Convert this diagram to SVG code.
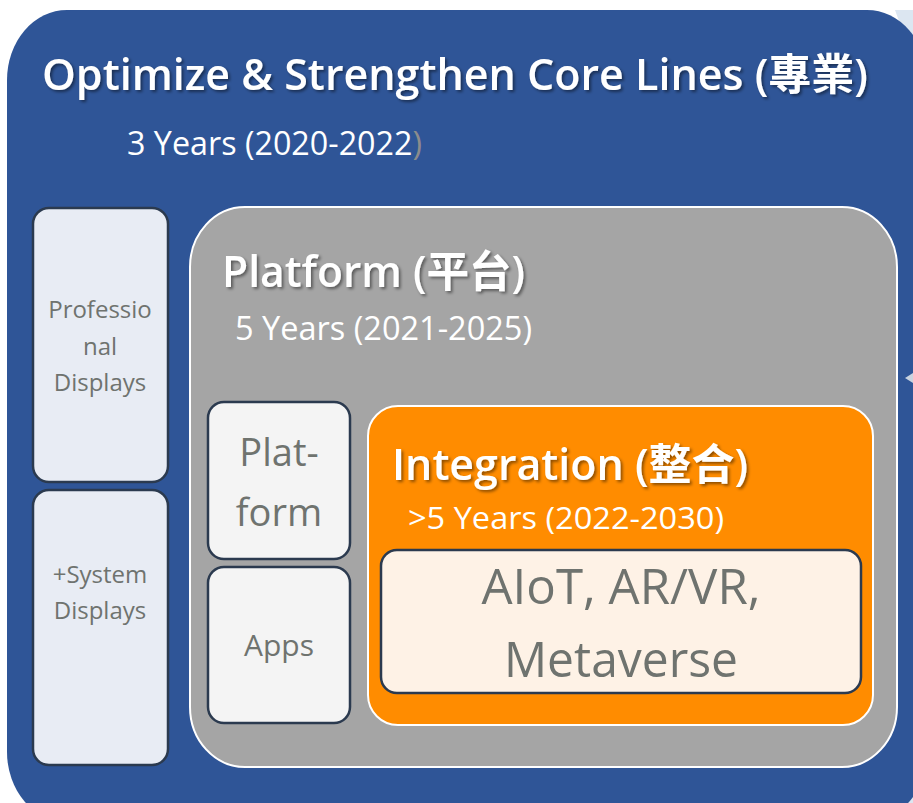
<svg xmlns="http://www.w3.org/2000/svg" width="913" height="803" viewBox="0 0 913 803">
<defs>
<filter id="sh" x="-10%" y="-30%" width="120%" height="160%">
<feDropShadow dx="2" dy="2" stdDeviation="1.5" flood-color="#000" flood-opacity="0.45"/>
</filter>
<style>
.hd{font-family:"Open Sans","Noto Sans CJK TC",sans-serif;fill:#fff;font-weight:600}
.sub{font-family:"Open Sans","Noto Sans",sans-serif;fill:#fff}
.lbl{font-family:"Open Sans","Noto Sans",sans-serif;fill:#6f736f;text-anchor:middle}
.card{stroke:#2b3a4f;stroke-width:2.5}
</style>
</defs>
<rect width="913" height="803" fill="#fff"/>
<path d="M895 10 L913 10 L913 60 Z" fill="#dce6f1"/>
<path d="M880 803 L913 760 L913 803 Z" fill="#dce6f1"/>
<g id="outer">
<rect x="7" y="10" width="920" height="812" rx="60" ry="70" fill="#2f5597"/>
<text class="hd" x="42" y="90" font-size="43" textLength="826" lengthAdjust="spacingAndGlyphs" filter="url(#sh)">Optimize &amp; Strengthen Core Lines (專業)</text>
<text class="sub" x="127" y="155" font-size="32" textLength="295" lengthAdjust="spacingAndGlyphs">3 Years (2020-2022<tspan fill="#8c8c8c">)</tspan></text>
</g>
<path d="M905 378 L913 373 L913 383 Z" fill="#c9d3e0"/>
<g id="professional">
<rect class="card" x="33" y="208" width="135" height="274" rx="16" fill="#e8ecf4"/>
<text class="lbl" x="100" y="318" font-size="24">Professio</text>
<text class="lbl" x="100" y="355" font-size="24">nal</text>
<text class="lbl" x="100" y="391" font-size="24">Displays</text>
</g>
<g id="system">
<rect class="card" x="33" y="490" width="135" height="275" rx="16" fill="#e8ecf4"/>
<text class="lbl" x="100" y="583" font-size="24">+System</text>
<text class="lbl" x="100" y="619" font-size="24">Displays</text>
</g>
<g id="platform">
<rect x="190" y="207" width="707" height="560" rx="55" ry="60" fill="#a5a5a5" stroke="#fff" stroke-width="2"/>
<text class="hd" x="222" y="287" font-size="43" textLength="303" lengthAdjust="spacingAndGlyphs" filter="url(#sh)">Platform (平台)</text>
<text class="sub" x="235" y="340" font-size="32" textLength="297" lengthAdjust="spacingAndGlyphs">5 Years (2021-2025)</text>
</g>
<g id="platform-box">
<rect class="card" x="208" y="402" width="142" height="157" rx="16" fill="#f4f4f4"/>
<text class="lbl" x="279" y="466" font-size="38">Plat-</text>
<text class="lbl" x="279" y="526" font-size="38">form</text>
</g>
<g id="apps">
<rect class="card" x="208" y="567" width="142" height="156" rx="16" fill="#f4f4f4"/>
<text class="lbl" x="279" y="656" font-size="30">Apps</text>
</g>
<g id="integration">
<rect x="368" y="406" width="505" height="319" rx="30" fill="#ff8c00" stroke="#fff" stroke-width="2"/>
<text class="hd" x="392" y="480" font-size="43" textLength="356" lengthAdjust="spacingAndGlyphs" filter="url(#sh)">Integration (整合)</text>
<text class="sub" x="408" y="529" font-size="31" textLength="316" lengthAdjust="spacingAndGlyphs">&gt;5 Years (2022-2030)</text>
</g>
<g id="aiot">
<rect class="card" x="381" y="550" width="480" height="143" rx="16" fill="#fef2e6"/>
<text class="lbl" x="621" y="604" font-size="49" textLength="279" lengthAdjust="spacingAndGlyphs">AIoT, AR/VR,</text>
<text class="lbl" x="621" y="677" font-size="49" textLength="234" lengthAdjust="spacingAndGlyphs">Metaverse</text>
</g>
<g id="connectors"/>
</svg>
